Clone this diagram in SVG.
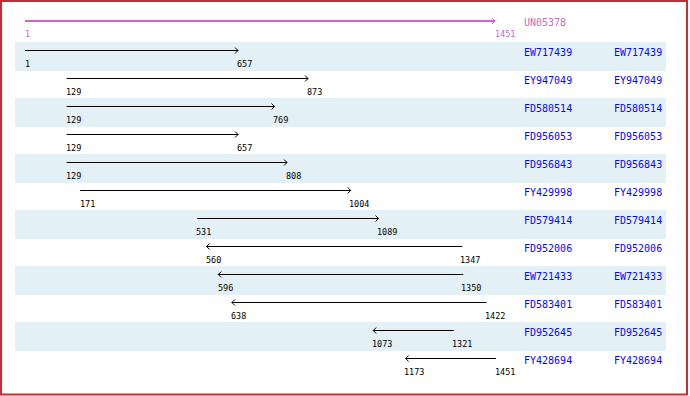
<svg xmlns="http://www.w3.org/2000/svg" width="690" height="396" viewBox="0 0 690 396">
<defs>
<marker id="ah" markerWidth="8" markerHeight="8" refX="4" refY="4" orient="auto" markerUnits="userSpaceOnUse">
<path d="M1,1 L4,4 L1,7" fill="none" stroke="#000" stroke-width="1"/>
</marker>
<marker id="ahm" markerWidth="8" markerHeight="8" refX="4" refY="4" orient="auto" markerUnits="userSpaceOnUse">
<path d="M1,1 L4,4 L1,7" fill="none" stroke="#cc66cc" stroke-width="1"/>
</marker>
</defs>
<style>
.band{fill:#e3f0f5}
.ln{stroke:#000;stroke-width:1;fill:none;marker-end:url(#ah)}
.num{font-family:"DejaVu Sans Mono","Liberation Mono",monospace;font-size:8.5px;fill:#000}
.nm{font-family:"DejaVu Sans Mono","Liberation Mono",monospace;font-size:10px;fill:#0808f0}
</style>
<rect x="0" y="0" width="690" height="396" fill="#fff"/>
<rect x="1" y="1" width="686" height="393.5" fill="none" stroke="#c03030" stroke-width="2"/>
<g id="header">
<line x1="25" y1="21" x2="495" y2="21" stroke="#cc66cc" stroke-width="2" marker-end="url(#ahm)"/>
<text x="25" y="36.5" class="num" style="fill:#cc66cc">1</text>
<text x="495" y="36.5" class="num" style="fill:#cc66cc">1451</text>
<text x="524" y="26" class="nm" style="fill:#c070c0">UN05378</text>
</g>
<g id="bands">
<rect class="band" x="15" y="42" width="651" height="29"/>
<rect class="band" x="15" y="98" width="651" height="29"/>
<rect class="band" x="15" y="154" width="651" height="29"/>
<rect class="band" x="15" y="210" width="651" height="29"/>
<rect class="band" x="15" y="266" width="651" height="29"/>
<rect class="band" x="15" y="322" width="651" height="29"/>
</g>
<g id="connectors">
<line class="ln" x1="25" y1="50.5" x2="238" y2="50.5"/>
<line class="ln" x1="66.6" y1="78.5" x2="308" y2="78.5"/>
<line class="ln" x1="66.6" y1="106.5" x2="274.5" y2="106.5"/>
<line class="ln" x1="66.6" y1="134.5" x2="238" y2="134.5"/>
<line class="ln" x1="66.6" y1="162.5" x2="287" y2="162.5"/>
<line class="ln" x1="80.2" y1="190.5" x2="350.7" y2="190.5"/>
<line class="ln" x1="197.2" y1="218.5" x2="378.5" y2="218.5"/>
<line class="ln" x1="462.2" y1="246.5" x2="206.6" y2="246.5"/>
<line class="ln" x1="463.2" y1="274.5" x2="218.3" y2="274.5"/>
<line class="ln" x1="486.6" y1="302.5" x2="231.9" y2="302.5"/>
<line class="ln" x1="453.8" y1="330.5" x2="373.2" y2="330.5"/>
<line class="ln" x1="496" y1="358.5" x2="405.7" y2="358.5"/>
</g>
<g id="r1"><text class="num" x="25" y="66.5">1</text><text class="num" x="237" y="66.5">657</text><text class="nm" x="524" y="56">EW717439</text><text class="nm" x="614" y="56">EW717439</text></g>
<g id="r2"><text class="num" x="66" y="94.5">129</text><text class="num" x="307" y="94.5">873</text><text class="nm" x="524" y="84">EY947049</text><text class="nm" x="614" y="84">EY947049</text></g>
<g id="r3"><text class="num" x="66" y="122.5">129</text><text class="num" x="273" y="122.5">769</text><text class="nm" x="524" y="112">FD580514</text><text class="nm" x="614" y="112">FD580514</text></g>
<g id="r4"><text class="num" x="66" y="150.5">129</text><text class="num" x="237" y="150.5">657</text><text class="nm" x="524" y="140">FD956053</text><text class="nm" x="614" y="140">FD956053</text></g>
<g id="r5"><text class="num" x="66" y="178.5">129</text><text class="num" x="286" y="178.5">808</text><text class="nm" x="524" y="168">FD956843</text><text class="nm" x="614" y="168">FD956843</text></g>
<g id="r6"><text class="num" x="80" y="206.5">171</text><text class="num" x="349" y="206.5">1004</text><text class="nm" x="524" y="196">FY429998</text><text class="nm" x="614" y="196">FY429998</text></g>
<g id="r7"><text class="num" x="196" y="234.5">531</text><text class="num" x="377" y="234.5">1089</text><text class="nm" x="524" y="224">FD579414</text><text class="nm" x="614" y="224">FD579414</text></g>
<g id="r8"><text class="num" x="206" y="262.5">560</text><text class="num" x="460" y="262.5">1347</text><text class="nm" x="524" y="252">FD952006</text><text class="nm" x="614" y="252">FD952006</text></g>
<g id="r9"><text class="num" x="218" y="290.5">596</text><text class="num" x="461" y="290.5">1350</text><text class="nm" x="524" y="280">EW721433</text><text class="nm" x="614" y="280">EW721433</text></g>
<g id="r10"><text class="num" x="231" y="318.5">638</text><text class="num" x="485" y="318.5">1422</text><text class="nm" x="524" y="308">FD583401</text><text class="nm" x="614" y="308">FD583401</text></g>
<g id="r11"><text class="num" x="372" y="346.5">1073</text><text class="num" x="452" y="346.5">1321</text><text class="nm" x="524" y="336">FD952645</text><text class="nm" x="614" y="336">FD952645</text></g>
<g id="r12"><text class="num" x="404" y="374.5">1173</text><text class="num" x="495" y="374.5">1451</text><text class="nm" x="524" y="364">FY428694</text><text class="nm" x="614" y="364">FY428694</text></g>
</svg>
